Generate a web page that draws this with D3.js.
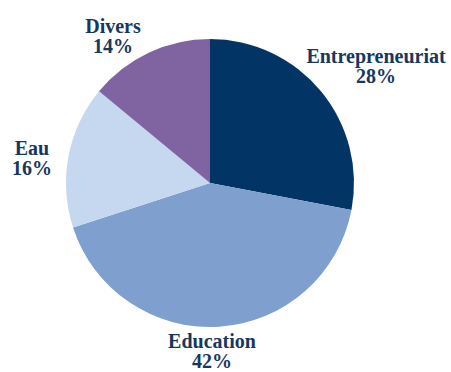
<!DOCTYPE html>
<html><head><meta charset="utf-8">
<script src="https://cdn.jsdelivr.net/npm/d3@7"></script>
<style>html,body{margin:0;padding:0;background:#fff;}svg{display:block;}
.lab{font-family:"Liberation Serif","Times New Roman",Times,serif;font-weight:bold;font-size:20px;}</style>
</head><body>
<script>
const categories = ["Entrepreneuriat", "Education", "Eau", "Divers"];
const values = [28, 42, 16, 14];
const colors = ["#023466", "#7f9fcf", "#c5d8f0", "#8064a2"];
const labelPos = [[376, 63], [212, 348], [32, 155], [113, 33]];

const W = 451, H = 372, cx = 210, cy = 183, R = 144;
const svg = d3.select("body").append("svg").attr("width", W).attr("height", H);
const data = categories.map((c, i) => ({c, v: values[i], i}));
const pie = d3.pie().value(d => d.v).sort(null);
const arc = d3.arc().innerRadius(0).outerRadius(R);
const g = svg.append("g").attr("transform", `translate(${cx},${cy})`);
g.selectAll("path").data(pie(data)).join("path")
  .attr("d", arc).attr("fill", d => colors[d.data.i]);

const lab = svg.append("g").attr("fill", "#17375e").attr("text-anchor", "middle");
data.forEach((d, i) => {
  const t = lab.append("text").attr("class", "lab").attr("x", labelPos[i][0]).attr("y", labelPos[i][1]);
  t.append("tspan").attr("x", labelPos[i][0]).text(d.c);
  t.append("tspan").attr("x", labelPos[i][0]).attr("dy", 20).text(d.v + "%");
});
</script>
</body></html>
